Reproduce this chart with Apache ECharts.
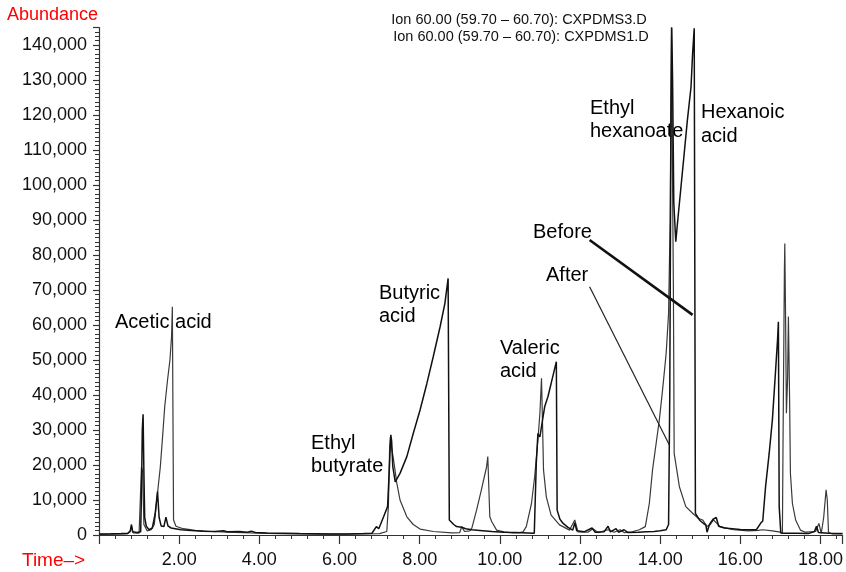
<!DOCTYPE html>
<html>
<head>
<meta charset="utf-8">
<script src="https://cdn.jsdelivr.net/npm/echarts@6/dist/echarts.min.js"></script>
<style>html,body{margin:0;padding:0;background:#fff}#c{width:846px;height:572px}</style>
</head>
<body>
<div id="c"></div>
<script>
// Trace "Before" (CXPDMS3.D)
const beforeTime = [0.00,0.30,0.55,0.72,0.78,0.81,0.84,0.95,1.04,1.06,1.08,1.10,1.12,1.14,1.18,1.25,1.33,1.40,1.46,1.50,1.55,1.62,1.67,1.72,1.80,1.90,2.05,2.30,2.60,2.90,3.10,3.20,3.50,3.70,3.80,3.90,4.20,4.60,5.00,5.40,5.80,6.20,6.60,6.81,6.92,6.98,7.10,7.20,7.24,7.28,7.30,7.33,7.39,7.51,7.68,7.84,8.01,8.18,8.34,8.51,8.63,8.71,8.74,8.85,8.92,9.05,9.09,9.15,9.30,9.50,9.80,10.10,10.40,10.70,10.86,10.91,10.95,11.00,11.04,11.12,11.20,11.28,11.37,11.41,11.43,11.50,11.58,11.70,11.82,11.87,11.92,12.10,12.30,12.38,12.60,12.70,12.76,12.90,12.96,13.10,13.20,13.45,13.65,13.85,14.00,14.15,14.21,14.24,14.27,14.29,14.31,14.34,14.39,14.44,14.52,14.60,14.68,14.77,14.81,14.85,14.88,14.98,15.08,15.14,15.17,15.20,15.23,15.32,15.40,15.46,15.60,15.80,16.00,16.20,16.40,16.51,16.56,16.63,16.72,16.80,16.87,16.93,16.95,16.97,17.01,17.10,17.40,17.70,17.85,17.90,17.95,18.20,18.55];
const beforeAbundance = [300,350,400,500,1200,3000,900,700,900,12000,30000,34500,18000,5000,2500,1500,2000,6000,12400,5000,2600,2400,5100,2600,2000,1800,1500,1300,1100,1000,1200,900,1000,800,1100,700,600,500,400,350,300,300,400,500,2400,1800,5200,8100,18000,28600,27000,19500,15200,17600,22400,29000,35700,43300,51000,59500,66200,73300,4300,3000,2400,2200,2600,1800,1500,1300,1000,800,700,600,500,20500,29000,28000,31000,36700,39500,43300,47600,49500,7100,4500,3300,2200,1400,3500,1200,900,2000,800,900,2500,900,1800,800,1500,700,800,900,1000,1200,1500,3000,40000,120000,145000,130000,95000,83800,90000,99500,109000,118600,128000,137600,144800,6200,4300,3300,2800,800,800,3000,4500,5000,2500,2000,1800,1600,1500,1500,3400,4000,13800,23300,32900,45200,56000,60900,8100,600,500,500,400,1000,2500,700,500,400];

// Trace "After" (CXPDMS1.D)
const afterTime = [0.00,0.40,0.70,0.78,0.81,0.85,1.00,1.04,1.06,1.09,1.12,1.20,1.30,1.38,1.46,1.53,1.58,1.64,1.71,1.77,1.81,1.83,1.86,1.92,2.10,2.40,2.80,3.20,3.60,4.00,4.50,5.00,5.50,6.00,6.50,7.00,7.18,7.22,7.25,7.27,7.30,7.35,7.43,7.51,7.68,7.84,8.01,8.34,8.80,9.00,9.05,9.12,9.25,9.30,9.42,9.54,9.67,9.70,9.75,9.80,9.92,10.10,10.33,10.50,10.58,10.66,10.79,10.87,10.95,11.00,11.04,11.06,11.09,11.16,11.28,11.49,11.74,11.87,11.95,12.20,12.32,12.45,12.70,12.85,13.00,13.10,13.30,13.48,13.63,13.73,13.81,13.90,13.98,14.06,14.15,14.21,14.25,14.28,14.31,14.33,14.35,14.48,14.64,14.81,14.95,15.06,15.17,15.25,15.33,15.40,15.50,15.83,16.20,16.45,16.56,16.80,17.00,17.05,17.07,17.10,17.11,17.13,17.15,17.18,17.20,17.21,17.23,17.25,17.30,17.38,17.50,17.62,17.88,17.96,18.02,18.08,18.14,18.17,18.20,18.30,18.55];
const afterAbundance = [200,250,300,900,2500,600,500,1000,19400,18000,3000,1200,1500,3000,12000,19500,27100,36700,44300,50000,56700,65200,4300,2500,1800,1300,1000,800,700,500,400,300,250,250,300,400,1000,8100,24800,28000,25000,21400,14800,10000,5200,3000,1700,1000,600,700,2400,1000,1200,1900,7100,12900,19500,22400,5200,3800,1400,900,600,700,900,2400,9000,16700,27100,34800,44800,34800,18600,10900,5700,2900,1400,4300,900,800,1800,700,1500,800,1500,700,900,1500,2400,9000,18600,26200,32900,41400,51900,63300,90000,145000,100000,70900,23300,13800,8100,6200,4800,4300,2400,3000,4300,3500,2400,1500,1200,1300,1500,1200,800,500,32900,75700,83300,61400,34800,45000,62400,62900,38600,17600,9000,4300,1400,800,1000,3300,500,5000,12900,10000,800,300,300];

// Pointer lines: [time, abundance] start and end
const beforePointer = [[12.24, 84300], [14.81, 62900]];
const afterPointer = [[12.24, 70900], [14.23, 25700]];

const titleLines = ['Ion 60.00 (59.70 \u2013 60.70): CXPDMS3.D', 'Ion 60.00 (59.70 \u2013 60.70): CXPDMS1.D'];

const FF = "'Liberation Sans', Arial, sans-serif";
const zip = (t, v) => t.map((x, i) => [x, v[i]]);

const chart = echarts.init(document.getElementById('c'), null, {renderer: 'canvas'});

function txt(text, x, y, size, color, align) {
  return {type: 'text', x: x, y: y, silent: true,
    style: {text: text, fill: color || '#000', font: size + 'px ' + FF, textAlign: align || 'left', textVerticalAlign: 'middle'}};
}

chart.setOption({
  animation: false,
  backgroundColor: '#fff',
  grid: {left: 99, right: 3, top: 27.5, bottom: 37},
  xAxis: {
    type: 'value', min: 0, max: 18.55, interval: 2,
    axisLine: {lineStyle: {color: '#333', width: 1.2}},
    axisTick: {length: 9, lineStyle: {color: '#333', width: 1.2}},
    minorTick: {show: true, splitNumber: 5, length: 4, lineStyle: {color: '#333', width: 1}},
    splitLine: {show: false},
    axisLabel: {showMinLabel: false, showMaxLabel: false, formatter: v => v.toFixed(2),
      fontSize: 18, color: '#111', margin: 16, fontFamily: FF}
  },
  yAxis: {
    type: 'value', min: 0, max: 145000, interval: 10000,
    axisLine: {show: true, lineStyle: {color: '#333', width: 1.2}},
    axisTick: {show: true, length: 6, lineStyle: {color: '#333', width: 1.2}},
    minorTick: {show: true, splitNumber: 8, length: 4, lineStyle: {color: '#333', width: 1}},
    splitLine: {show: false},
    axisLabel: {showMaxLabel: false, fontSize: 18, color: '#111', margin: 12, fontFamily: FF}
  },
  series: [
    {
      name: 'CXPDMS1.D', type: 'line', data: zip(afterTime, afterAbundance),
      symbol: 'none', lineStyle: {color: '#3a3a3a', width: 1.2}, z: 2,
      markLine: {silent: true, symbol: 'none', label: {show: false}, animation: false,
        lineStyle: {color: '#222', width: 1.2, type: 'solid'},
        data: [[{coord: afterPointer[0]}, {coord: afterPointer[1]}]]}
    },
    {
      name: 'CXPDMS3.D', type: 'line', data: zip(beforeTime, beforeAbundance),
      symbol: 'none', lineStyle: {color: '#111', width: 1.5}, z: 3,
      markLine: {silent: true, symbol: 'none', label: {show: false}, animation: false,
        lineStyle: {color: '#111', width: 2.6, type: 'solid'},
        data: [[{coord: beforePointer[0]}, {coord: beforePointer[1]}]]}
    }
  ],
  graphic: [
    txt('Abundance', 7, 15.5, 18, '#ff0000'),
    txt('Time\u2013>', 22, 561, 19, '#ff0000'),
    txt(titleLines[0], 519, 19.5, 14.5, '#111', 'center'),
    txt(titleLines[1], 521, 37, 14.5, '#111', 'center'),
    txt('Acetic acid', 115, 322, 20),
    txt('Ethyl', 311, 443, 20),
    txt('butyrate', 311, 466, 20),
    txt('Butyric', 379, 293, 20),
    txt('acid', 379, 316, 20),
    txt('Valeric', 500, 348, 20),
    txt('acid', 500, 371, 20),
    txt('Ethyl', 590, 108, 20),
    txt('hexanoate', 590, 131, 20),
    txt('Hexanoic', 701, 112.5, 20),
    txt('acid', 701, 136, 20),
    txt('Before', 533, 232, 20),
    txt('After', 546, 275, 20)
  ]
});
</script>
</body>
</html>
